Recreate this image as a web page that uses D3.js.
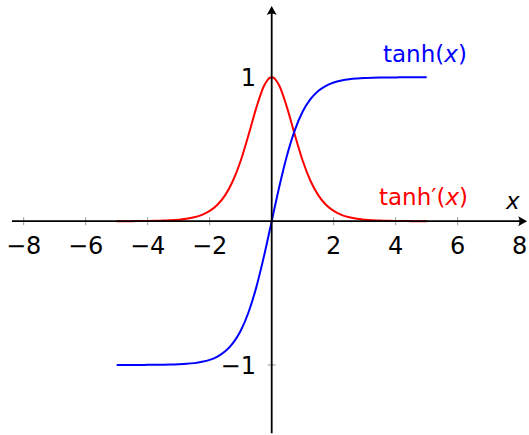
<!DOCTYPE html>
<html lang="en">
<head>
<meta charset="UTF-8">
<title>tanh and its derivative</title>
<script src="https://d3js.org/d3.v7.min.js"></script>
<style>
    body { margin: 0; background: #fff; }
    text { font-family: "DejaVu Sans", sans-serif; }
</style>
</head>
<body>
<div id="fig"></div>
<script>
    // sample positions and values
    let xs = [-5, -4.75, -4.5, -4.25, -4, -3.75, -3.5, -3.25, -3, -2.75, -2.5, -2.25, -2, -1.75, -1.5, -1.25, -1, -0.75, -0.5, -0.25,
              0, 0.25, 0.5, 0.75, 1, 1.25, 1.5, 1.75, 2, 2.25, 2.5, 2.75, 3, 3.25, 3.5, 3.75, 4, 4.25, 4.5, 4.75, 5];
    let tanh_vals = [-1, -1, -1, -1, -0.999, -0.999, -0.998, -0.997, -0.995, -0.992, -0.987, -0.978, -0.964, -0.941, -0.905, -0.848, -0.762, -0.635, -0.462, -0.245,
                     0, 0.245, 0.462, 0.635, 0.762, 0.848, 0.905, 0.941, 0.964, 0.978, 0.987, 0.992, 0.995, 0.997, 0.998, 0.999, 0.999, 1, 1, 1, 1];
    let dtanh_vals = [0, 0, 0, 0.001, 0.001, 0.002, 0.004, 0.006, 0.010, 0.016, 0.027, 0.044, 0.071, 0.114, 0.181, 0.281, 0.420, 0.597, 0.786, 0.940,
                      1, 0.940, 0.786, 0.597, 0.420, 0.281, 0.181, 0.114, 0.071, 0.044, 0.027, 0.016, 0.010, 0.006, 0.004, 0.002, 0.001, 0.001, 0, 0, 0];
    let x_ticks = [-8, -6, -4, -2, 2, 4, 6, 8];
    let y_ticks = [-1, 1];

    let w = 529, h = 435;
    let svg = d3.select("#fig").append("svg")
        .attr("width", w).attr("height", h);

    let x = d3.scaleLinear().domain([-8, 8]).range([23.7, 519.7]);
    let y = d3.scaleLinear().domain([-1, 1]).range([365, 77.3]);

    // ticks
    let g_ticks = svg.append("g").attr("stroke", "#9a9a9a").attr("stroke-width", 1);
    g_ticks.selectAll(".xt").data(x_ticks).join("line")
        .attr("x1", d => x(d)).attr("x2", d => x(d))
        .attr("y1", y(0) - 4).attr("y2", y(0) + 4);
    g_ticks.selectAll(".yt").data(y_ticks).join("line")
        .attr("x1", x(0) - 4).attr("x2", x(0) + 4)
        .attr("y1", d => y(d)).attr("y2", d => y(d));

    // curves
    let pts = (vals) => xs.map((v, i) => [v, vals[i]]);
    let line = d3.line().x(d => x(d[0])).y(d => y(d[1])).curve(d3.curveMonotoneX);

    svg.append("path").datum(pts(dtanh_vals))
        .attr("d", line).attr("fill", "none")
        .attr("stroke", "#ff0000").attr("stroke-width", 2);
    svg.append("path").datum(pts(tanh_vals))
        .attr("d", line).attr("fill", "none")
        .attr("stroke", "#0000ff").attr("stroke-width", 2);

    // axes lines with arrows
    let x0 = x(-8.38), x1 = x(8.24);
    let y0 = y(-1.475), y1 = y(1.495);
    svg.append("line").attr("x1", x0).attr("x2", x1 - 3)
        .attr("y1", y(0)).attr("y2", y(0))
        .attr("stroke", "#000").attr("stroke-width", 1.8);
    svg.append("line").attr("x1", x(0)).attr("x2", x(0))
        .attr("y1", y0).attr("y2", y1 + 3)
        .attr("stroke", "#000").attr("stroke-width", 1.8);

    let arrow = "M0,0 L-9,-5 Q-6,0 -9,5 Z";
    svg.append("path").attr("d", arrow)
        .attr("transform", `translate(${x1},${y(0)})`).attr("fill", "#000");
    svg.append("path").attr("d", arrow)
        .attr("transform", `translate(${x(0)},${y1}) rotate(-90)`).attr("fill", "#000");

    // tick labels
    let fmt = d => d < 0 ? "\u2212" + Math.abs(d) : String(d);
    svg.selectAll(".xl").data(x_ticks).join("text")
        .attr("x", d => x(d)).attr("y", 254)
        .attr("text-anchor", "middle").attr("font-size", 24)
        .text(fmt);
    svg.selectAll(".yl").data(y_ticks).join("text")
        .attr("x", 256).attr("y", d => y(d) + 8.5)
        .attr("text-anchor", "end").attr("font-size", 24)
        .text(fmt);

    // axis label
    svg.append("text").attr("x", 506).attr("y", 209)
        .attr("font-size", 23).attr("font-style", "italic").text("x");

    // curve labels
    let t1 = svg.append("text").attr("x", 383).attr("y", 62)
        .attr("font-size", 23).attr("fill", "#0000ff");
    t1.append("tspan").text("tanh(");
    t1.append("tspan").attr("font-style", "italic").text("x");
    t1.append("tspan").text(")");

    let t2 = svg.append("text").attr("x", 379).attr("y", 205)
        .attr("font-size", 23).attr("fill", "#ff0000");
    t2.append("tspan").text("tanh\u2032(");
    t2.append("tspan").attr("font-style", "italic").text("x");
    t2.append("tspan").text(")");
</script>
</body>
</html>
